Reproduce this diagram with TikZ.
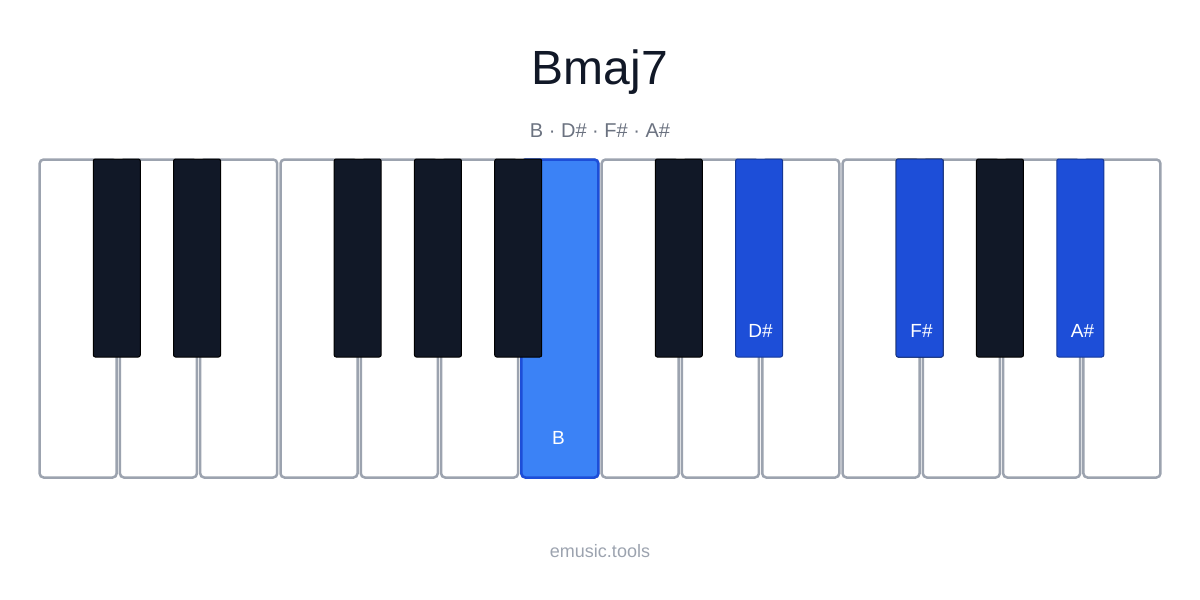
\documentclass[tikz,border=0pt]{standalone}
\usepackage{fontspec}
\setmainfont{Liberation Sans}
\usetikzlibrary{positioning}
\definecolor{keyblack}{HTML}{111827}
\definecolor{keyborder}{HTML}{9CA3AF}
\definecolor{hiblue}{HTML}{3B82F6}
\definecolor{hidark}{HTML}{1D4ED8}
\definecolor{textgray}{HTML}{6B7280}
\begin{document}
\begin{tikzpicture}[x=1pt,y=-1pt]
  \tikzstyle{white key}=[rectangle,rounded corners=4pt,draw=keyborder,line width=2.5pt,
                         fill=white,minimum width=77pt,minimum height=318pt,inner sep=0pt]
  \tikzstyle{black key}=[rectangle,rounded corners=2pt,draw=black,line width=1pt,
                         fill=keyblack,minimum width=47pt,minimum height=198pt,inner sep=0pt]
  \tikzstyle{note}=[text=white,font=\fontsize{19}{22}\selectfont]
  \useasboundingbox (0,0) rectangle (1200,600);

  \node[font=\fontsize{48}{56}\selectfont,text=keyblack] (title) at (600,72) {Bmaj7};
  \node[font=\fontsize{20}{24}\selectfont,text=textgray] (notes) at (600,131) {B · D\# · F\# · A\#};

  \foreach \i in {0,...,13}
    \node[white key] (w\i) at ({78.14+80.29*\i},318.5) {};
  \node[white key,fill=hiblue,draw=hidark] (w6) at ({78.14+80.29*6},318.5) {};
  \node[note] at (558.5,438) {B};

  \foreach \k in {1,2,4,5,6,8,11,12}
    \node[black key] (b\k) at ({38+80.29*\k-1.5},258) {};
  \foreach \k/\n in {9/D\#,11/F\#,13/A\#}
    \node[black key,fill=hidark,draw=hidark!70!black] (b\k) at ({38+80.29*\k-1.5},258) {};
  \node[note] at (760.5,331) {D\#};
  \node[note] at (921.5,331) {F\#};
  \node[note] at (1082.5,331) {A\#};

  \node[font=\fontsize{18}{22}\selectfont,text=keyborder] (site) at (600,551) {emusic.tools};
\end{tikzpicture}
\end{document}
